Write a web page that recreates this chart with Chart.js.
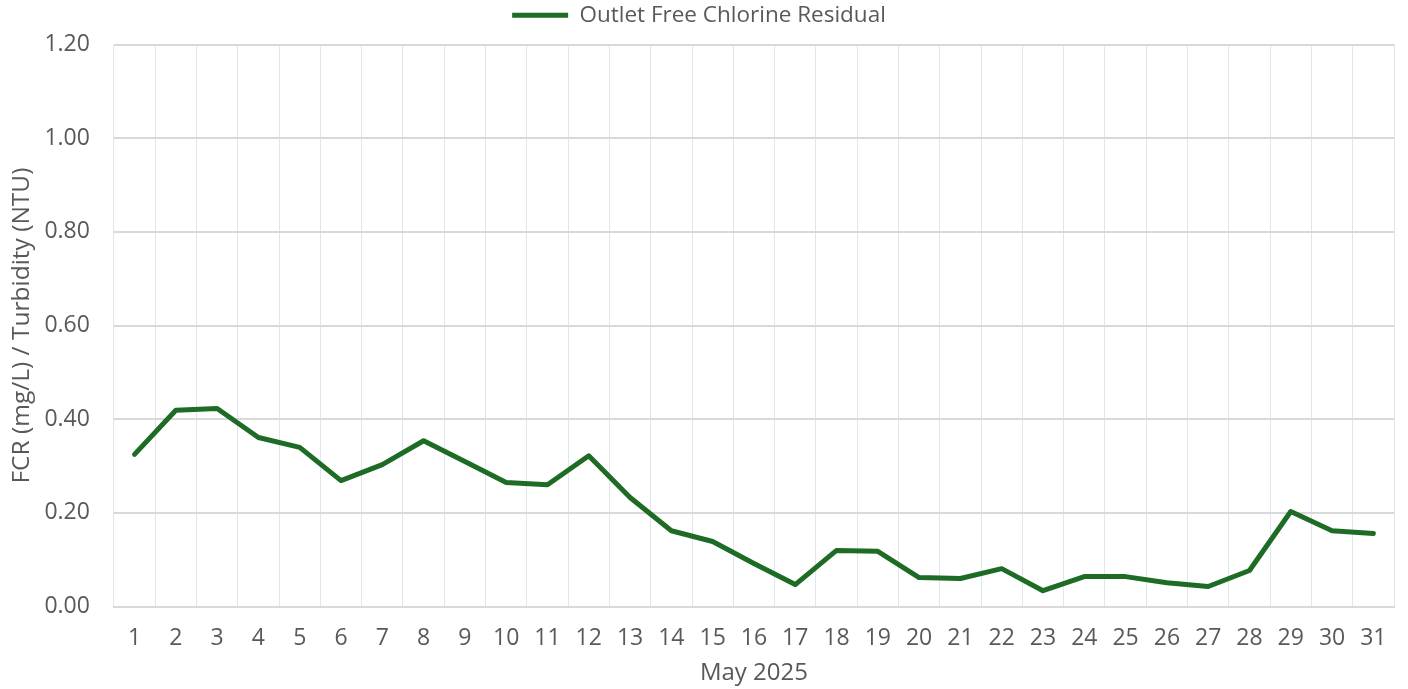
<!DOCTYPE html>
<html><head><meta charset="utf-8">
<script src="https://cdn.jsdelivr.net/npm/chart.js@4"></script>
<style>html,body{margin:0;padding:0;background:#fff}#wrap{width:1408px;height:689px}</style>
</head><body><div id="wrap"><canvas id="c" width="1408" height="689"></canvas></div>
<script>
const days = ["1","2","3","4","5","6","7","8","9","10","11","12","13","14","15","16","17","18","19","20","21","22","23","24","25","26","27","28","29","30","31"];
const fcr = [0.325,0.419,0.423,0.361,0.340,0.269,0.303,0.354,0.310,0.265,0.260,0.322,0.233,0.162,0.139,0.092,0.047,0.120,0.118,0.062,0.060,0.081,0.034,0.064,0.064,0.051,0.043,0.077,0.203,0.162,0.156];
const seriesName = "Outlet Free Chlorine Residual";
const xTitle = "May 2025";
const yTitle = "FCR (mg/L) / Turbidity (NTU)";
const textColor = "#595959";
const fontFam = "'Open Sans', sans-serif";
const legendGap = {
  id: 'legendGap',
  beforeLayout(chart) {
    const lg = chart.legend;
    if (lg && !lg._patched) {
      const f = lg.fit;
      lg.fit = function () { f.call(this); this.height += 8; };
      lg._patched = true;
    }
  }
};
new Chart(document.getElementById('c'), {
  type: 'line',
  data: { labels: days, datasets: [{ label: seriesName, data: fcr, borderColor: '#1d6b24', backgroundColor: '#1d6b24', borderWidth: 5, pointRadius: 0, tension: 0, borderCapStyle: 'round', borderJoinStyle: 'round' }] },
  plugins: [legendGap],
  options: {
    responsive: false, animation: false,
    layout: { padding: { left: 4, right: 14, top: 0, bottom: 1 } },
    plugins: {
      legend: { position: 'top', labels: { color: textColor, font: { family: fontFam, size: 22.5 }, boxWidth: 56, boxHeight: 5, padding: 4,
        generateLabels: (chart) => [{ text: seriesName, fillStyle: '#1d6b24', strokeStyle: '#1d6b24', lineWidth: 0, fontColor: textColor, datasetIndex: 0 }] } },
      tooltip: { enabled: false }
    },
    scales: {
      x: { offset: true,
        grid: { offset: true, color: '#dde6f1', lineWidth: 1, drawTicks: false },
        border: { display: true, color: '#d9d9d9', width: 2 },
        ticks: { color: textColor, font: { family: fontFam, size: 23 }, padding: 18, maxRotation: 0, autoSkip: false },
        title: { display: true, text: xTitle, color: textColor, font: { family: fontFam, size: 24 }, padding: { top: -11, bottom: 0 } } },
      y: { min: 0, max: 1.2,
        grid: { color: '#d9d9d9', lineWidth: 2, drawTicks: false },
        border: { display: false },
        ticks: { stepSize: 0.2, color: textColor, font: { family: fontFam, size: 23 }, padding: 24, callback: v => v.toFixed(2) },
        title: { display: true, text: yTitle, color: textColor, font: { family: fontFam, size: 24.5 }, padding: { top: 3, bottom: -16 } } }
    }
  }
});
</script></body></html>
